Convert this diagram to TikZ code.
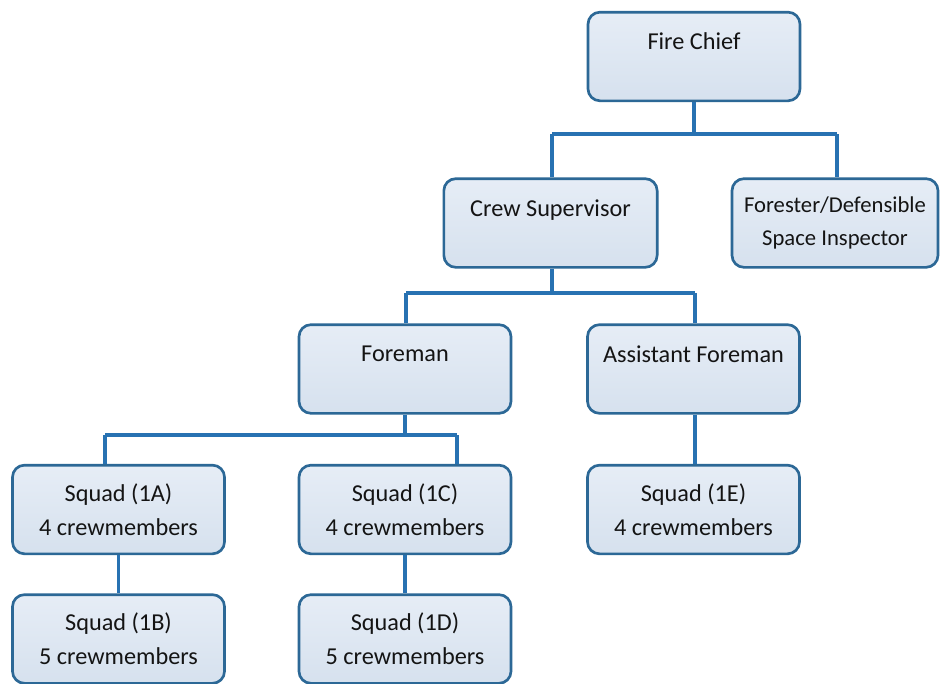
\documentclass[tikz,border=0pt]{standalone}
\usepackage{fontspec}
\setmainfont{Carlito}
\definecolor{boxborder}{RGB}{44,104,150}
\definecolor{boxtop}{RGB}{230,237,246}
\definecolor{boxbot}{RGB}{214,225,238}
\definecolor{conn}{RGB}{40,114,178}
\definecolor{txt}{RGB}{20,20,20}
\tikzset{
  orgbox/.style={draw=boxborder, line width=2pt, rounded corners=9pt,
    top color=boxtop, bottom color=boxbot,
    minimum width=159pt, minimum height=66.5pt, inner sep=0pt,
    align=center, text=txt, font=\fontsize{18.2}{25.5}\selectfont},
  conn/.style={draw=conn, line width=2.4pt}
}
\newcommand{\oneline}[1]{#1\\[-10.5pt]\strut}
\begin{document}
\begin{tikzpicture}[x=0.75pt,y=-0.75pt]
\useasboundingbox (0,0) rectangle (940,683);
\fill[white] (0,0) rectangle (940,683);
\node[orgbox] (chief) at (694,56.5) {\oneline{Fire Chief}};
\node[orgbox, minimum width=160pt] (crew) at (550.5,223) {\oneline{Crew Supervisor}};
\node[orgbox, minimum width=154.5pt, font=\fontsize{17}{24.5}\selectfont] (forester) at (835,223) {Forester/Defensible\\Space Inspector};
\node[orgbox] (foreman) at (405,369) {\oneline{Foreman}};
\node[orgbox] (asst) at (693.5,369) {\oneline{Assistant Foreman}};
\node[orgbox] (sA) at (118.5,509.5) {Squad (1A)\\4 crewmembers};
\node[orgbox] (sC) at (405,509.5) {Squad (1C)\\4 crewmembers};
\node[orgbox] (sE) at (693.5,509.5) {Squad (1E)\\4 crewmembers};
\node[orgbox] (sB) at (118.5,639) {Squad (1B)\\5 crewmembers};
\node[orgbox] (sD) at (405,639) {Squad (1D)\\5 crewmembers};
% junction coordinates
\coordinate (j1) at (552,134);
\coordinate (j2) at (837,134);
\coordinate (j3) at (406,293);
\coordinate (j4) at (695,293);
\coordinate (j5) at (105,435);
\coordinate (j6) at (457,435);
\draw[conn] (chief.south) -- (chief.south |- j1);
\draw[conn] (j1) -- (j2);
\draw[conn] (j1) -- (j1 |- crew.north);
\draw[conn] (j2) -- (j2 |- forester.north);
\draw[conn] (crew.south -| j1) -- (j1 |- j3);
\draw[conn] (j3) -- (j4);
\draw[conn] (j3) -- (j3 |- foreman.north);
\draw[conn] (j4) -- (j4 |- asst.north);
\draw[conn] (foreman.south) -- (foreman.south |- j5);
\draw[conn] (j5) -- (j6);
\draw[conn] (j5) -- (j5 |- sA.north);
\draw[conn] (j6) -- (j6 |- sC.north);
\draw[conn] (sA.south) -- (sB.north);
\draw[conn] (sC.south) -- (sD.north);
\draw[conn] (asst.south -| j4) -- (j4 |- sE.north);
\end{tikzpicture}
\end{document}
